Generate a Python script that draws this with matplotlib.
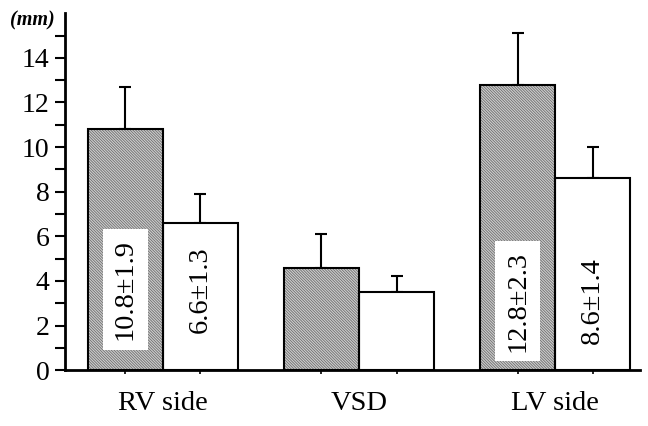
import matplotlib
matplotlib.use("Agg")
import matplotlib.pyplot as plt
import numpy as np

plt.rcParams['font.family'] = ['Liberation Serif', 'DejaVu Serif']
plt.rcParams['hatch.linewidth'] = 0.6

categories = ["RV side", "VSD", "LV side"]
gray_means = [10.8, 4.6, 12.8]
gray_sd = [1.9, 1.5, 2.3]
white_means = [6.6, 3.5, 8.6]
white_sd = [1.3, 0.7, 1.4]
gray_labels = ["10.8\u00b11.9", None, "12.8\u00b12.3"]
white_labels = ["6.6\u00b11.3", None, "8.6\u00b11.4"]
label_y = [3.6, None, 3.1]

fig = plt.figure(figsize=(6.48, 4.26), dpi=100)
ax = fig.add_axes([0.100, 0.131, 0.888, 0.838])

x = np.arange(len(categories))
w = 0.383
gx = x - w / 2
wx = x + w / 2

# hatched fill (hatch follows edge colour), then black outline on top
ax.bar(gx, gray_means, width=w, facecolor='#cfcfcf', edgecolor='#6e6e6e',
       linewidth=0, hatch='\\' * 12, zorder=2)
ax.bar(gx, gray_means, width=w, facecolor='none', edgecolor='black',
       linewidth=1.5, zorder=3)
ax.bar(wx, white_means, width=w, facecolor='white', edgecolor='black',
       linewidth=1.5, zorder=2)
ax.errorbar(gx, gray_means, yerr=[np.zeros(3), gray_sd], fmt='none',
            ecolor='black', elinewidth=1.5, capsize=4.5, capthick=1.5, zorder=1)
ax.errorbar(wx, white_means, yerr=[np.zeros(3), white_sd], fmt='none',
            ecolor='black', elinewidth=1.5, capsize=4.5, capthick=1.5, zorder=1)

for i in range(len(categories)):
    if gray_labels[i]:
        ax.text(gx[i], label_y[i], gray_labels[i], rotation=90, ha='center',
                va='center', fontsize=20.5, zorder=5,
                bbox=dict(boxstyle='square,pad=0.35', facecolor='white',
                          edgecolor='none'))
    if white_labels[i]:
        ax.text(wx[i], label_y[i], white_labels[i], rotation=90, ha='center',
                va='center', fontsize=20.5, zorder=5)

ax.set_xlim(-0.5, 2.434)
ax.set_ylim(0, 16)
ax.set_yticks(np.arange(0, 15, 2))
ax.set_yticks(np.arange(1, 16, 2), minor=True)
ax.tick_params(axis='y', which='both', direction='out', length=7, width=1.5,
               labelsize=20, pad=4)
ax.set_xticks(np.concatenate([gx, wx]))
ax.set_xticklabels([])
ax.tick_params(axis='x', which='major', direction='out', length=3, width=1.2)
for xi, c in zip(x, categories):
    ax.text(xi, -1.5, c, ha='center', va='center', fontsize=20.5)

ax.spines['top'].set_visible(False)
ax.spines['right'].set_visible(False)
ax.spines['left'].set_linewidth(2)
ax.spines['bottom'].set_linewidth(2)

fig.text(0.015, 0.952, "(mm)", fontsize=14.5, fontstyle='italic',
         fontweight='bold', ha='left', va='center')

fig.savefig("out.png", dpi=100)
